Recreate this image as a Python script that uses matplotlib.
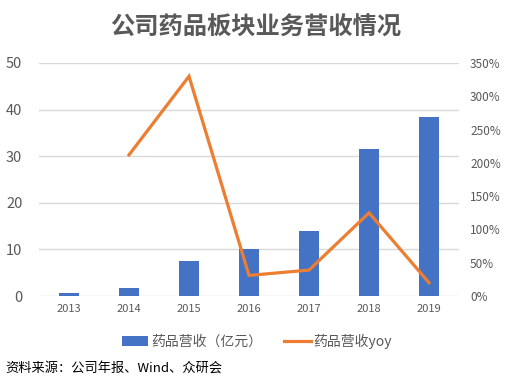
import matplotlib.pyplot as plt
from matplotlib.ticker import PercentFormatter

plt.rcParams['font.family'] = ['Noto Sans CJK SC', 'DejaVu Sans']

years = ['2013', '2014', '2015', '2016', '2017', '2018', '2019']
revenue = [0.6, 1.7, 7.5, 10.1, 14.0, 31.5, 38.4]
yoy_years = ['2014', '2015', '2016', '2017', '2018', '2019']
yoy = [212, 330, 31, 39, 125, 20]

blue = '#4472C4'
orange = '#ED7D31'
grid = '#D9D9D9'
label_color = '#595959'

fig = plt.figure(figsize=(5.11, 3.84), dpi=100)
ax = fig.add_axes([0.0763, 0.229, 0.822, 0.607])
ax2 = ax.twinx()

x = list(range(len(years)))
bars = ax.bar(x, revenue, width=0.32, color=blue, label='药品营收（亿元）', zorder=2)
xi = [years.index(y) for y in yoy_years]
line, = ax2.plot(xi, yoy, color=orange, linewidth=2.3, label='药品营收yoy',
                 solid_joinstyle='miter', zorder=3)

ax.set_xlim(-0.5, len(years) - 0.5)
ax.set_ylim(0, 50)
ax.set_yticks(range(0, 51, 10))
ax2.set_ylim(0, 350)
ax2.set_yticks(range(0, 351, 50))
ax2.yaxis.set_major_formatter(PercentFormatter(decimals=0))
ax.set_xticks(x)
ax.set_xticklabels(years)

ax.yaxis.grid(True, color=grid, linewidth=1, zorder=0)
ax.set_axisbelow(True)
for a in (ax, ax2):
    for s in a.spines.values():
        s.set_visible(False)
    a.tick_params(length=0, colors=label_color)
ax.tick_params(axis='y', labelsize=10.5, pad=12)
ax.tick_params(axis='x', labelsize=8, pad=6)
ax2.tick_params(axis='y', labelsize=8.5, pad=8)

fig.text(0.5, 0.928, '公司药品板块业务营收情况', ha='center', va='center',
         fontsize=17.5, fontweight='bold', color=label_color)

fig.legend(handles=[bars, line], loc='center', bbox_to_anchor=(0.503, 0.112),
           ncol=2, frameon=False, fontsize=10, handlelength=1.9,
           columnspacing=1.6, handletextpad=0.2, labelcolor=label_color)

fig.text(0.01, 0.038, '资料来源：公司年报、Wind、众研会', ha='left', va='center',
         fontsize=9.5, color='black')

fig.savefig('out.png', dpi=100)
